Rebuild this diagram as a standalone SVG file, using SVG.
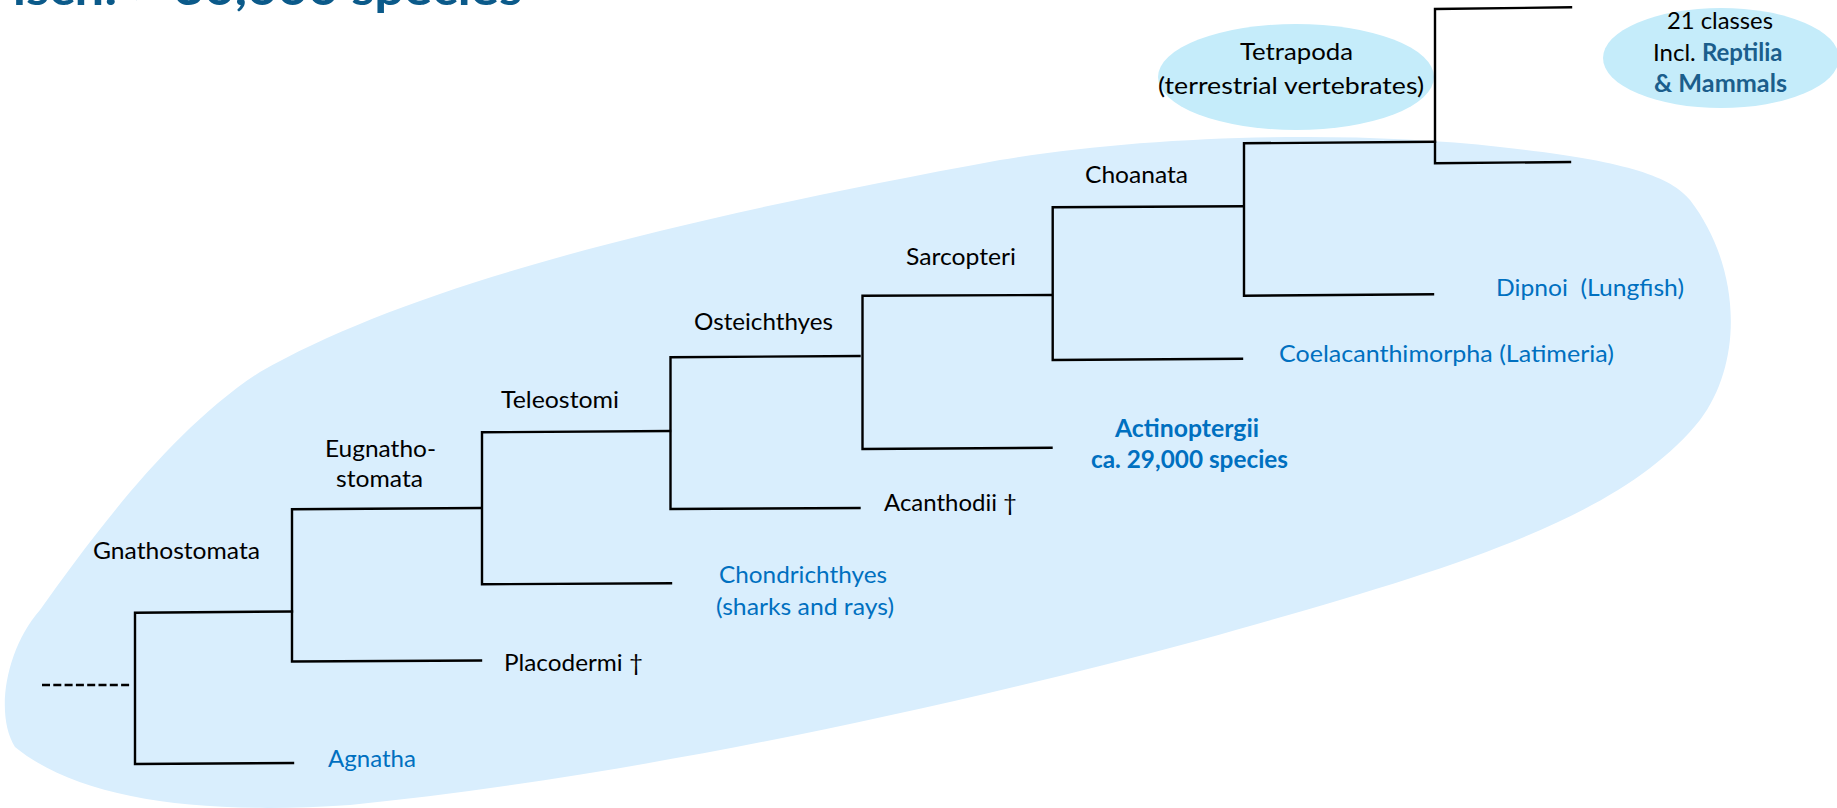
<svg xmlns="http://www.w3.org/2000/svg" width="1837" height="808" viewBox="0 0 1837 808">
  <style>
    .t { font-family: Lato, "Noto Sans", "Liberation Sans", sans-serif; font-size: 24px; fill: #000; }
    .b { fill: #0070C0; }
    .bd { font-weight: 700; }
    .dk { fill: #1B5E8C; font-weight: 700; }
    .br { fill: none; stroke: #000; stroke-width: 2.4; stroke-linecap: square; stroke-linejoin: miter; }
    .title { font-family: Lato, "Noto Sans", "Liberation Sans", sans-serif; font-size: 46px; font-weight: 700; fill: #0B5A8A; }
  </style>

  <rect width="1837" height="808" fill="#fff"/>

  <!-- page heading, running off the top edge -->
  <text class="title" x="-17" y="5" textLength="539" lengthAdjust="spacingAndGlyphs">Fisch: &gt; 30,000 species</text>

  <!-- shaded area around the fish clades -->
  <path id="fish-area" fill="#D9EEFD" d="M 15,747 C -5,715 5,650 40,610 C 90,540 170,430 260,372 C 420,280 700,215 1000,160 C 1150,135 1350,130 1500,147 C 1620,160 1670,175 1690,200 C 1740,265 1745,360 1700,420 C 1620,520 1450,570 1200,640 C 900,720 600,780 350,805 C 200,815 80,800 15,747 Z"/>

  <!-- highlighted clades -->
  <g id="tetrapoda">
    <ellipse cx="1296" cy="77" rx="138" ry="53" fill="#C5ECFA"/>
    <text class="t" x="1240" y="60" textLength="113" lengthAdjust="spacingAndGlyphs">Tetrapoda</text>
    <text class="t" x="1158" y="94" textLength="266" lengthAdjust="spacingAndGlyphs">(terrestrial vertebrates)</text>
  </g>
  <g id="classes">
    <ellipse cx="1721" cy="58" rx="118" ry="50" fill="#C5ECFA"/>
    <text class="t" x="1667" y="29" textLength="106" lengthAdjust="spacingAndGlyphs">21 classes</text>
    <text class="t" x="1653" y="61">Incl. <tspan class="dk">Reptilia</tspan></text>
    <text class="t dk" x="1654" y="92" textLength="133" lengthAdjust="spacingAndGlyphs">&amp; Mammals</text>
  </g>

  <!-- cladogram branches -->
  <g id="connectors">
    <line class="br" x1="42" y1="685" x2="132" y2="685" stroke-dasharray="8 3.3" style="stroke-linecap:butt"/>
    <path class="br" d="M292,611.5 L135,612.7 L135,764 L293,763"/>
    <path class="br" d="M481,508 L292,509.3 L292,661.5 L481,660.5"/>
    <path class="br" d="M670,431 L482,432.3 L482,584.3 L671,583.3"/>
    <path class="br" d="M859.5,356 L670.5,357.3 L670.5,509 L859.5,508"/>
    <path class="br" d="M1051.5,295 L862.5,295.7 L862.5,449 L1051.5,447.7"/>
    <path class="br" d="M1242,206.3 L1052.7,207.3 L1052.7,360 L1242,358.7"/>
    <path class="br" d="M1435,141.7 L1244,143.3 L1244,295.7 L1433,294.3"/>
    <path class="br" d="M1571,7.3 L1435,9 L1435,163.3 L1570,162"/>
  </g>

  <!-- clade labels -->
  <g id="gnathostomata"><text class="t" x="93" y="559" textLength="167" lengthAdjust="spacingAndGlyphs">Gnathostomata</text></g>
  <g id="eugnathostomata">
    <text class="t" x="325" y="457" textLength="111" lengthAdjust="spacingAndGlyphs">Eugnatho-</text>
    <text class="t" x="336" y="487" textLength="87" lengthAdjust="spacingAndGlyphs">stomata</text>
  </g>
  <g id="teleostomi"><text class="t" x="501" y="408" textLength="118" lengthAdjust="spacingAndGlyphs">Teleostomi</text></g>
  <g id="osteichthyes"><text class="t" x="694" y="330" textLength="139" lengthAdjust="spacingAndGlyphs">Osteichthyes</text></g>
  <g id="sarcopteri"><text class="t" x="906" y="265" textLength="110" lengthAdjust="spacingAndGlyphs">Sarcopteri</text></g>
  <g id="choanata"><text class="t" x="1085" y="183" textLength="103" lengthAdjust="spacingAndGlyphs">Choanata</text></g>

  <!-- terminal taxa -->
  <g id="agnatha"><text class="t b" x="328" y="767" textLength="88" lengthAdjust="spacingAndGlyphs">Agnatha</text></g>
  <g id="placodermi"><text class="t" x="504" y="671" textLength="139" lengthAdjust="spacingAndGlyphs">Placodermi †</text></g>
  <g id="chondrichthyes">
    <text class="t b" x="719" y="583" textLength="168" lengthAdjust="spacingAndGlyphs">Chondrichthyes</text>
    <text class="t b" x="716" y="615" textLength="178" lengthAdjust="spacingAndGlyphs">(sharks and rays)</text>
  </g>
  <g id="acanthodii"><text class="t" x="884" y="511" textLength="133" lengthAdjust="spacingAndGlyphs">Acanthodii †</text></g>
  <g id="actinopterygii">
    <text class="t b bd" x="1115" y="437" textLength="144" lengthAdjust="spacingAndGlyphs">Actinoptergii</text>
    <text class="t b bd" x="1091" y="468" textLength="197" lengthAdjust="spacingAndGlyphs">ca. 29,000 species</text>
  </g>
  <g id="coelacanthimorpha"><text class="t b" x="1279" y="362" textLength="335" lengthAdjust="spacingAndGlyphs">Coelacanthimorpha (Latimeria)</text></g>
  <g id="dipnoi"><text class="t b" x="1496" y="296" textLength="188" lengthAdjust="spacingAndGlyphs" xml:space="preserve">Dipnoi  (Lungfish)</text></g>
</svg>
